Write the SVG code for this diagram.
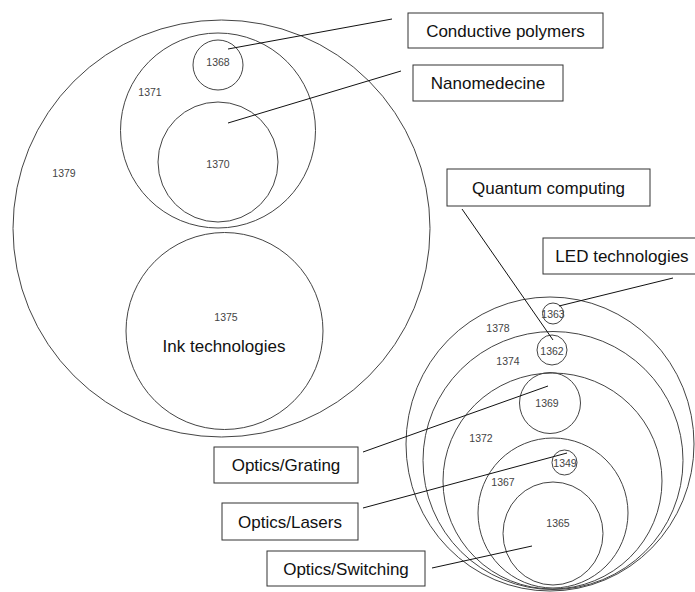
<svg xmlns="http://www.w3.org/2000/svg" width="695" height="592" viewBox="0 0 695 592">
<style>
.c{fill:none;stroke:#444;stroke-width:1}
.n{font-family:"Liberation Sans",Arial,sans-serif;font-size:10.5px;fill:#444;text-anchor:middle;dominant-baseline:central}
.b{fill:#fff;stroke:#333;stroke-width:1}
.t{font-family:"Liberation Sans",Arial,sans-serif;font-size:17px;fill:#111;text-anchor:middle;dominant-baseline:central}
.l{stroke:#111;stroke-width:1;fill:none}
</style>
<rect width="695" height="592" fill="#fff"/>
<g id="n1379"><circle class="c" cx="221.5" cy="228.5" r="208.5"/><text class="n" x="64" y="173">1379</text></g>
<g id="n1371"><circle class="c" cx="218" cy="130.5" r="97.5"/><text class="n" x="150" y="92">1371</text></g>
<g id="n1368"><circle class="c" cx="218" cy="65" r="25"/><text class="n" x="218" y="62">1368</text></g>
<g id="n1370"><circle class="c" cx="218" cy="162" r="60"/><text class="n" x="218" y="164">1370</text></g>
<g id="n1375"><circle class="c" cx="224.5" cy="331" r="98.5"/><text class="n" x="226" y="317">1375</text><text class="t" x="224" y="346" font-size="17.5px">Ink technologies</text></g>
<g id="n1378"><ellipse class="c" cx="550" cy="444" rx="144" ry="147"/><text class="n" x="498" y="328">1378</text></g>
<g id="n1374"><ellipse class="c" cx="553" cy="460.5" rx="130" ry="129"/><text class="n" x="508" y="361">1374</text></g>
<g id="n1372"><ellipse class="c" cx="552.5" cy="481" rx="109.5" ry="108"/><text class="n" x="481" y="438">1372</text></g>
<g id="n1367"><ellipse class="c" cx="553" cy="513" rx="75" ry="75"/><text class="n" x="503" y="482">1367</text></g>
<g id="n1365"><ellipse class="c" cx="553" cy="533.5" rx="50" ry="51.5"/><text class="n" x="558" y="523">1365</text></g>
<g id="n1363"><circle class="c" cx="553" cy="313.5" r="10.5"/><text class="n" x="553" y="314">1363</text></g>
<g id="n1362"><circle class="c" cx="552" cy="350" r="15"/><text class="n" x="552" y="351">1362</text></g>
<g id="n1369"><circle class="c" cx="550" cy="403" r="30.5"/><text class="n" x="547" y="403">1369</text></g>
<g id="n1349"><circle class="c" cx="564.5" cy="462.5" r="12.5"/><text class="n" x="565" y="463">1349</text></g>
<g id="connectors">
<line class="l" x1="228" y1="49" x2="392" y2="19"/>
<line class="l" x1="228" y1="123" x2="401" y2="71"/>
<line class="l" x1="462" y1="209" x2="553" y2="340"/>
<line class="l" x1="673" y1="278" x2="559" y2="306"/>
<line class="l" x1="363" y1="452" x2="548" y2="386"/>
<line class="l" x1="363" y1="508" x2="567" y2="453"/>
<line class="l" x1="432" y1="568" x2="532" y2="546"/>
</g>
<g id="box-conductive"><rect class="b" x="408" y="13" width="195" height="35"/><text class="t" x="505.5" y="31">Conductive polymers</text></g>
<g id="box-nano"><rect class="b" x="413" y="65" width="150" height="36"/><text class="t" x="488" y="83.5">Nanomedecine</text></g>
<g id="box-quantum"><rect class="b" x="447" y="169" width="203" height="37"/><text class="t" x="548.5" y="188">Quantum computing</text></g>
<g id="box-led"><rect class="b" x="543" y="238" width="156" height="36"/><text class="t" x="622" y="256.5">LED technologies</text></g>
<g id="box-grating"><rect class="b" x="214" y="447" width="144" height="36"/><text class="t" x="286" y="465.5">Optics/Grating</text></g>
<g id="box-lasers"><rect class="b" x="222" y="503" width="136" height="37"/><text class="t" x="290" y="522">Optics/Lasers</text></g>
<g id="box-switching"><rect class="b" x="267" y="551" width="158" height="35"/><text class="t" x="346" y="569">Optics/Switching</text></g>
</svg>
